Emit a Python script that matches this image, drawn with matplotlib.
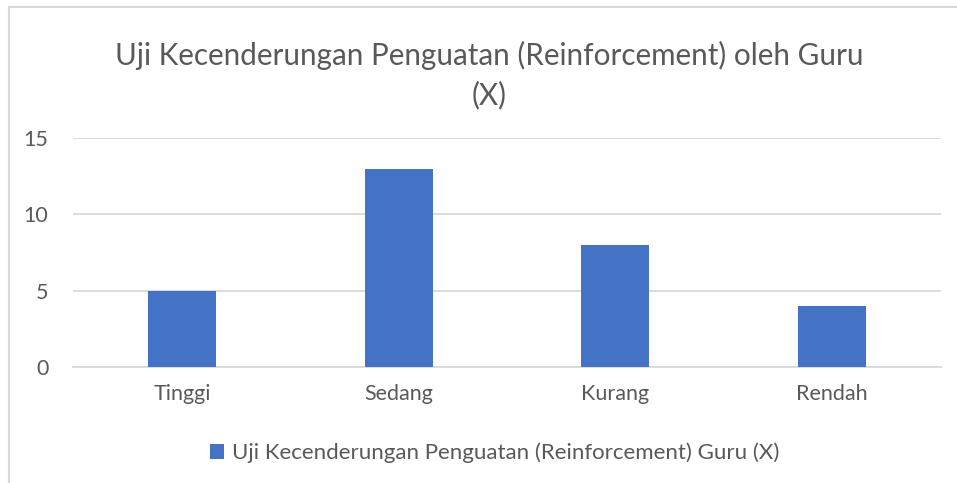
import matplotlib.pyplot as plt
from matplotlib.lines import Line2D

# --- Data ---
kategori = ["Tinggi", "Sedang", "Kurang", "Rendah"]
nilai = [5, 13, 8, 4]
judul = "Uji Kecenderungan Penguatan (Reinforcement) oleh Guru\n(X)"
label_seri = "Uji Kecenderungan Penguatan (Reinforcement) Guru (X)"
y_ticks = [0, 5, 10, 15]

warna_bar = "#4472C4"
warna_teks = "#595959"
warna_grid = "#D9D9D9"

plt.rcParams['font.family'] = ['Lato', 'DejaVu Sans']

fig = plt.figure(figsize=(9.57, 4.83), dpi=100)
ax = fig.add_axes([0.0768, 0.2402, 0.906, 0.4741])

x = range(len(kategori))
ax.bar(x, nilai, width=0.313, color=warna_bar, label=label_seri, zorder=3)

ax.set_xlim(-0.5, len(kategori) - 0.5)
ax.set_ylim(0, 15)
ax.set_yticks(y_ticks)
ax.set_xticks(list(x))
ax.set_xticklabels(kategori)
ax.yaxis.grid(True, color=warna_grid, linewidth=1.3, zorder=0)
for s in ["top", "right", "left"]:
    ax.spines[s].set_visible(False)
ax.spines["bottom"].set_color(warna_grid)
ax.spines["bottom"].set_linewidth(1.3)
ax.tick_params(axis="both", length=0, labelsize=15.5, colors=warna_teks)
ax.tick_params(axis="x", pad=12)
ax.tick_params(axis="y", pad=18)

fig.text(0.511, 0.845, judul, ha="center", va="center", fontsize=21.3,
         color=warna_teks, linespacing=1.45)

fig.legend(loc="center", bbox_to_anchor=(0.517, 0.062), frameon=False,
           fontsize=16, labelcolor=warna_teks, handlelength=0.62,
           handleheight=0.62, handletextpad=0.35)

# chart frame
fig.add_artist(Line2D([0.0094, 0.0094], [0.0, 0.985], transform=fig.transFigure,
                      color="#D9D9D9", linewidth=1.5))
fig.add_artist(Line2D([0.0094, 1.0], [0.985, 0.985], transform=fig.transFigure,
                      color="#D9D9D9", linewidth=1.5))

fig.savefig("out.png", dpi=100)
